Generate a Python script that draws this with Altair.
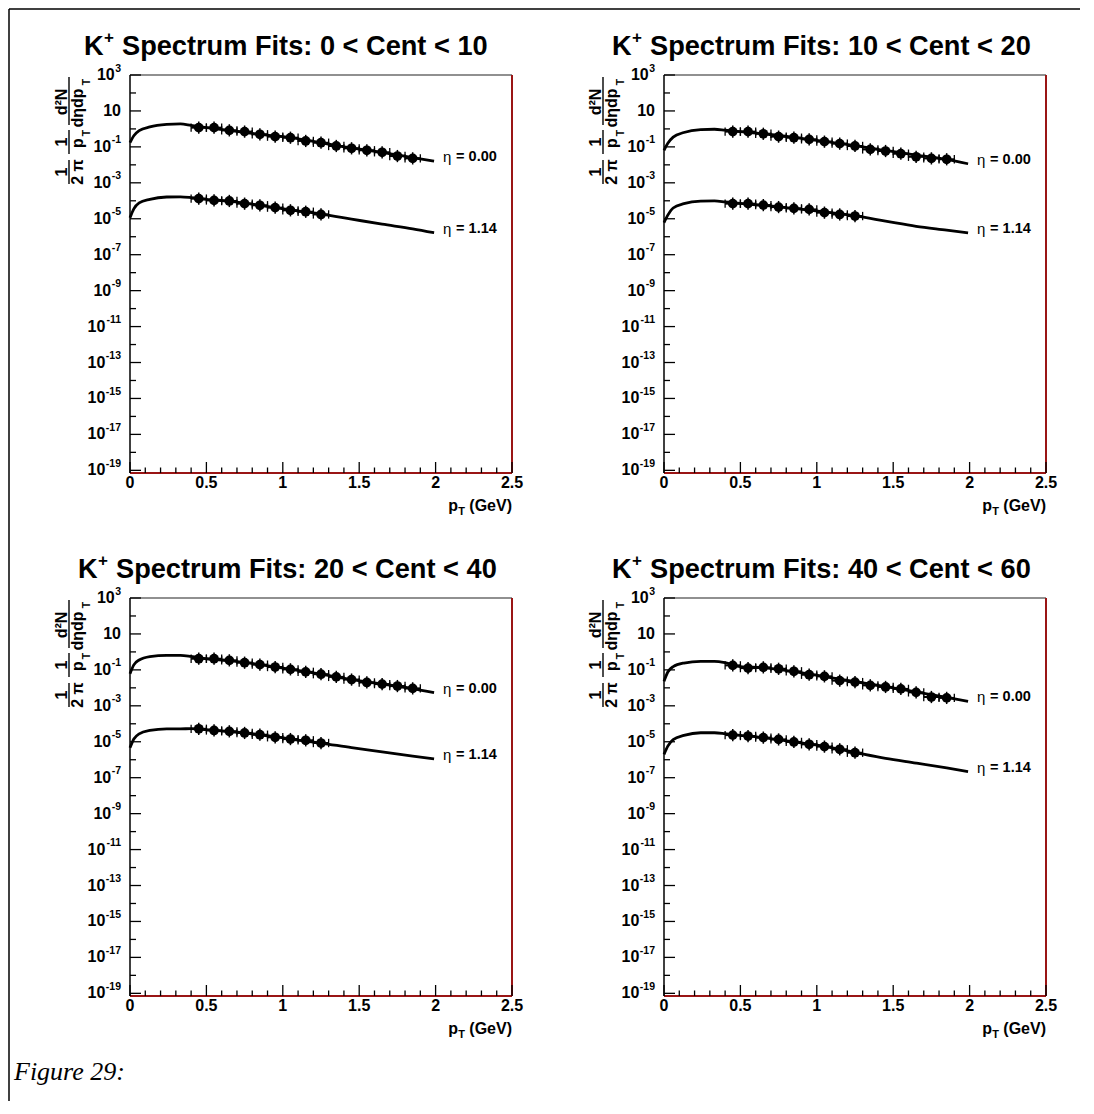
import altair as alt
import pandas as pd

# ---------------- data ----------------
CENT_RANGES = ["0 < Cent < 10", "10 < Cent < 20", "20 < Cent < 40", "40 < Cent < 60"]
ETA_LABELS = ["0.00", "1.14"]
PT_POINTS = [0.45, 0.55, 0.65, 0.75, 0.85, 0.95, 1.05, 1.15, 1.25, 1.35, 1.45, 1.55, 1.65, 1.75, 1.85]
PT_HALF_BIN = 0.05
CURVE_PT = [0.0, 0.025, 0.06, 0.13, 0.24, 0.33, 0.40, 0.50, 0.65, 0.85, 1.05, 1.25, 1.45, 1.65, 1.85, 1.99]

# values are log10 of 1/(2 pi pT) d2N/(deta dpT)
P1_ETA0_PTS = [0.07, 0.07, -0.08, -0.15, -0.30, -0.43, -0.49, -0.67, -0.77, -0.95, -1.08, -1.19, -1.30, -1.51, -1.64]
P1_ETA1_PTS = [-3.88, -3.98, -4.01, -4.16, -4.25, -4.38, -4.53, -4.61, -4.76]
P1_ETA0_FIT = [-0.77, -0.38, -0.10, 0.11, 0.25, 0.28, 0.20, 0.07, -0.08, -0.30, -0.49, -0.77, -1.06, -1.30, -1.60, -1.79]
P1_ETA1_FIT = [-4.95, -4.45, -4.12, -3.92, -3.79, -3.78, -3.82, -3.92, -4.02, -4.25, -4.50, -4.74, -5.02, -5.30, -5.56, -5.78]

P2_ETA0_PTS = [-0.15, -0.15, -0.27, -0.43, -0.49, -0.58, -0.71, -0.82, -0.95, -1.14, -1.23, -1.38, -1.55, -1.64, -1.69]
P2_ETA1_PTS = [-4.16, -4.16, -4.24, -4.35, -4.42, -4.48, -4.66, -4.76, -4.85]
P2_ETA0_FIT = [-1.19, -0.80, -0.46, -0.20, -0.04, -0.02, -0.07, -0.15, -0.27, -0.47, -0.70, -0.93, -1.20, -1.46, -1.70, -1.94]
P2_ETA1_FIT = [-5.22, -4.80, -4.40, -4.16, -4.02, -4.01, -4.06, -4.15, -4.25, -4.42, -4.62, -4.84, -5.13, -5.42, -5.63, -5.78]

P3_ETA0_PTS = [-0.38, -0.38, -0.47, -0.60, -0.71, -0.84, -0.97, -1.11, -1.24, -1.39, -1.54, -1.70, -1.79, -1.90, -2.03]
P3_ETA1_PTS = [-4.28, -4.37, -4.42, -4.51, -4.61, -4.75, -4.85, -4.92, -5.07]
P3_ETA0_FIT = [-1.21, -0.72, -0.45, -0.26, -0.19, -0.19, -0.25, -0.38, -0.48, -0.71, -0.97, -1.24, -1.54, -1.79, -2.04, -2.27]
P3_ETA1_FIT = [-5.34, -4.85, -4.56, -4.37, -4.28, -4.28, -4.27, -4.33, -4.43, -4.61, -4.85, -5.07, -5.33, -5.56, -5.80, -5.95]

P4_ETA0_PTS = [-0.75, -0.90, -0.86, -0.94, -1.08, -1.27, -1.36, -1.60, -1.68, -1.86, -1.95, -2.06, -2.25, -2.51, -2.56]
P4_ETA1_PTS = [-4.63, -4.68, -4.77, -4.87, -5.01, -5.14, -5.27, -5.42, -5.61]
P4_ETA0_FIT = [-1.64, -1.12, -0.82, -0.62, -0.53, -0.53, -0.60, -0.82, -0.88, -1.10, -1.37, -1.66, -1.93, -2.23, -2.53, -2.75]
P4_ETA1_FIT = [-5.70, -5.24, -4.88, -4.65, -4.50, -4.50, -4.55, -4.65, -4.77, -5.01, -5.26, -5.60, -5.93, -6.19, -6.46, -6.66]

X_TICK_LABELS = ["0", "0.5", "1", "1.5", "2", "2.5"]
X_MAJOR_TICKS = [0.0, 0.5, 1.0, 1.5, 2.0, 2.5]
Y_LABEL_EXPONENTS = [3, 1, -1, -3, -5, -7, -9, -11, -13, -15, -17, -19]
Y_MINOR_EXPONENTS = [2, 0, -2, -4, -6, -8, -10, -12, -14, -16, -18]
CAPTION = "Figure 29:"

# ---------------- layout / style ----------------
FONT = "Liberation Sans"
W, H = 382, 398
DARKRED = "#9a1515"
XSCALE = alt.Scale(domain=[0, 2.5], nice=False, zero=False)
YSCALE = alt.Scale(type="log", domain=[7.1e-20, 1e3], nice=False)
TITLE_X0 = [-46, -52, -52, -52]
ONE = pd.DataFrame({"k": [0]})


def X(f):
    return alt.X(f"{f}:Q", scale=XSCALE, axis=None)


def Y(f):
    return alt.Y(f"{f}:Q", scale=YSCALE, axis=None)


def txt(text, x, y, size=16, weight="bold", angle=0, align="center", baseline="middle", font=FONT, style="normal"):
    kw = dict(text=text, font=font, fontSize=size, fontWeight=weight, align=align,
              baseline=baseline, color="black", fontStyle=style)
    if angle:
        kw["angle"] = angle
    return alt.Chart(ONE).mark_text(**kw).encode(x=alt.value(x), y=alt.value(y))


def hline(x, x2, y, color="black", sw=1.5):
    return alt.Chart(ONE).mark_rule(color=color, strokeWidth=sw).encode(
        x=alt.value(x), x2=alt.value(x2), y=alt.value(y))


def vline(x, y, y2, color="black", sw=1.5):
    return alt.Chart(ONE).mark_rule(color=color, strokeWidth=sw).encode(
        x=alt.value(x), y=alt.value(y), y2=alt.value(y2))


def panel(i, eta0_pts, eta1_pts, eta0_fit, eta1_fit, border=False, caption=False):
    layers = []

    # frame
    layers.append(hline(0, W, 0, "#222222", 1.2))
    layers.append(vline(W, 0, H, DARKRED, 2))
    layers.append(hline(0, W, H, DARKRED, 2))
    layers.append(vline(0, 0, H, "black", 1.5))

    # x ticks (inward) and labels
    xmaj = pd.DataFrame({"v": X_MAJOR_TICKS, "lab": X_TICK_LABELS})
    xmin = pd.DataFrame({"v": [round(0.1 * k, 2) for k in range(1, 25) if k % 5]})
    layers.append(alt.Chart(xmaj).mark_rule(color="black", strokeWidth=1.3).encode(
        x=X("v"), y=alt.value(H), y2=alt.value(H - 11)))
    layers.append(alt.Chart(xmin).mark_rule(color="black", strokeWidth=1.3).encode(
        x=X("v"), y=alt.value(H), y2=alt.value(H - 5.5)))
    layers.append(alt.Chart(xmaj).mark_text(font=FONT, fontSize=16, fontWeight="bold", align="center",
                                            baseline="alphabetic", color="black").encode(
        x=X("v"), y=alt.value(H + 15), text="lab:N"))

    # y ticks (inward) and 10^n labels
    ymaj = pd.DataFrame({"e": Y_LABEL_EXPONENTS})
    ymaj["v"] = 10.0 ** ymaj["e"]
    ymaj["sup"] = ymaj["e"].map(lambda e: "" if e == 1 else str(e))
    ymaj["n"] = ymaj["sup"].str.len()
    ymin = pd.DataFrame({"e": Y_MINOR_EXPONENTS})
    ymin["v"] = 10.0 ** ymin["e"]
    layers.append(alt.Chart(ymaj).mark_rule(color="black", strokeWidth=1.3).encode(
        y=Y("v"), x=alt.value(0), x2=alt.value(11)))
    layers.append(alt.Chart(ymin).mark_rule(color="black", strokeWidth=1.3).encode(
        y=Y("v"), x=alt.value(0), x2=alt.value(6)))
    supw = {0: 0, 1: 6.3, 2: 9.8, 3: 15.6}
    for n, w in supw.items():
        base = alt.Chart(ymaj).transform_filter(alt.datum.n == n)
        layers.append(base.mark_text(text="10", font=FONT, fontSize=16, fontWeight="bold", align="right",
                                     baseline="middle", color="black").encode(
            x=alt.value(-9 - w), y=Y("v")))
        if n > 0:
            layers.append(base.mark_text(font=FONT, fontSize=10.5, fontWeight="bold", align="right",
                                         baseline="middle", dy=-6.5, color="black").encode(
                x=alt.value(-9), y=Y("v"), text="sup:N"))

    # y-axis title: 1/(2 pi) 1/pT d2N/(deta dpT), rotated
    layers += [
        txt("1", -68, 97, angle=270),
        vline(-61, 85, 109, "black", 1.4),
        txt("2 π", -52, 97, angle=270),
        txt("1", -68, 67, angle=270),
        vline(-61, 55, 79, "black", 1.4),
        txt("p", -52, 68, angle=270),
        txt("T", -43, 58, size=10.5, angle=270),
        txt("d²N", -68, 27, angle=270),
        vline(-61, 2, 50, "black", 1.4),
        txt("dηdp", -52, 33, angle=270),
        txt("T", -43, 7, size=10.5, angle=270),
    ]

    # x-axis title
    layers += [
        txt("(GeV)", W, H + 38, size=16, align="right", baseline="alphabetic"),
        txt("T", W - 47, H + 42, size=11, align="right", baseline="alphabetic"),
        txt("p", W - 54, H + 38, size=16, align="right", baseline="alphabetic"),
    ]

    # panel title
    x0 = TITLE_X0[i]
    layers += [
        txt("K", x0, -20, size=27.2, align="left", baseline="alphabetic"),
        txt("+", x0 + 20, -32, size=17, align="left", baseline="alphabetic"),
        txt("Spectrum Fits: " + CENT_RANGES[i], x0 + 38, -20, size=27.2, align="left", baseline="alphabetic"),
    ]

    # fits
    fit = pd.DataFrame({
        "pt": CURVE_PT + CURVE_PT,
        "y": [10.0 ** v for v in eta0_fit] + [10.0 ** v for v in eta1_fit],
        "eta": [ETA_LABELS[0]] * len(CURVE_PT) + [ETA_LABELS[1]] * len(CURVE_PT),
    })
    layers.append(alt.Chart(fit).mark_line(color="black", strokeWidth=2.8, interpolate="monotone").encode(
        x=X("pt"), y=Y("y"), detail="eta:N"))

    # data points with error bars
    pts = pd.DataFrame({
        "pt": PT_POINTS + PT_POINTS[:len(eta1_pts)],
        "y": [10.0 ** v for v in eta0_pts] + [10.0 ** v for v in eta1_pts],
    })
    pts["lo"] = pts["pt"] - PT_HALF_BIN
    pts["hi"] = pts["pt"] + PT_HALF_BIN
    edges = pd.DataFrame({"pt": list(pts["lo"]) + list(pts["hi"]), "y": list(pts["y"]) * 2})
    layers.append(alt.Chart(pts).mark_rule(color="black", strokeWidth=2).encode(
        x=X("lo"), x2=alt.X2("hi"), y=Y("y")))
    layers.append(alt.Chart(edges).mark_point(shape="M0,-1L0,1", size=70, strokeWidth=1.3,
                                              color="black", filled=False, opacity=1).encode(
        x=X("pt"), y=Y("y")))
    layers.append(alt.Chart(pts).mark_point(shape="M0,-1L0,1", size=150, strokeWidth=1.5,
                                            color="black", filled=False, opacity=1).encode(
        x=X("pt"), y=Y("y")))
    layers.append(alt.Chart(pts).mark_circle(size=95, color="black", opacity=1).encode(
        x=X("pt"), y=Y("y")))

    # eta labels at the end of each fit
    lab = pd.DataFrame({
        "pt": [CURVE_PT[-1], CURVE_PT[-1]],
        "y": [10.0 ** eta0_fit[-1], 10.0 ** eta1_fit[-1]],
        "t": ["= " + ETA_LABELS[0], "= " + ETA_LABELS[1]],
    })
    layers.append(alt.Chart(lab).mark_text(text="η", font=FONT, fontSize=15, fontWeight="normal",
                                           align="left", baseline="middle", dx=9, dy=-4, color="black").encode(
        x=X("pt"), y=Y("y")))
    layers.append(alt.Chart(lab).mark_text(font=FONT, fontSize=14.5, fontWeight="bold",
                                           align="left", baseline="middle", dx=22, dy=-4, color="black").encode(
        x=X("pt"), y=Y("y"), text="t:N"))

    if border:
        layers.append(vline(-121, -66, 1026, "black", 1.5))
        layers.append(hline(-121, 950, -66, "black", 1.5))
    if caption:
        layers.append(txt(CAPTION, -116, H + 84, size=26, weight="normal", align="left",
                          baseline="alphabetic", font="Liberation Serif", style="italic"))

    return alt.layer(*layers).properties(width=W, height=H)


p1 = panel(0, P1_ETA0_PTS, P1_ETA1_PTS, P1_ETA0_FIT, P1_ETA1_FIT, border=True)
p2 = panel(1, P2_ETA0_PTS, P2_ETA1_PTS, P2_ETA0_FIT, P2_ETA1_FIT)
p3 = panel(2, P3_ETA0_PTS, P3_ETA1_PTS, P3_ETA0_FIT, P3_ETA1_FIT, caption=True)
p4 = panel(3, P4_ETA0_PTS, P4_ETA1_PTS, P4_ETA0_FIT, P4_ETA1_FIT)

chart = alt.concat(p1, p2, p3, p4, columns=2, spacing={"row": 125, "column": 152}, bounds="flush").properties(
    padding={"left": 0, "top": 0, "right": 0, "bottom": 0}, background="white"
).configure_view(strokeWidth=0)

chart.save("out.html", embed_options={"renderer": "svg", "actions": False})
